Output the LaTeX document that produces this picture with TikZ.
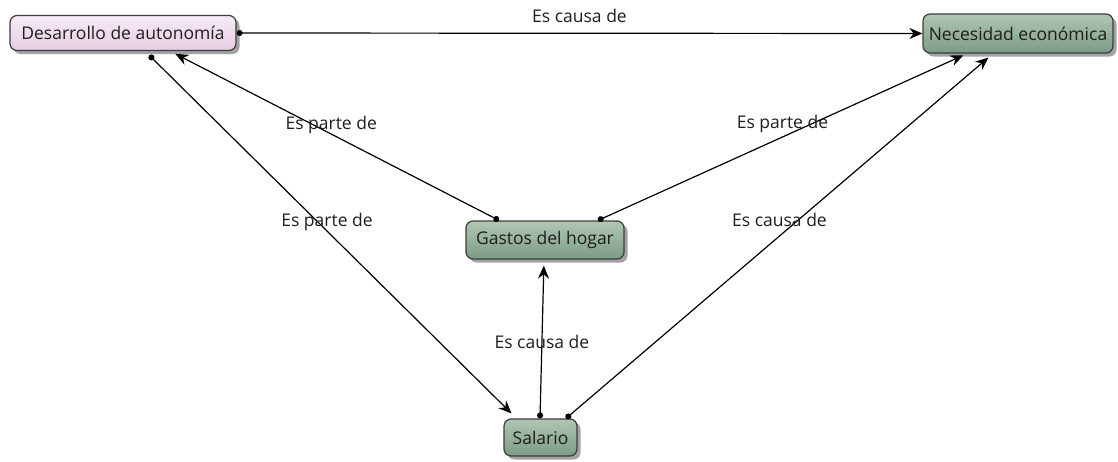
\documentclass[tikz,border=0pt]{standalone}
\usepackage{fontspec}
\setmainfont{Open Sans}
\usetikzlibrary{shadows,arrows.meta,calc}
\definecolor{gtop}{HTML}{AFC6B2}
\definecolor{gbot}{HTML}{7C9C86}
\definecolor{ptop}{HTML}{F7EAF5}
\definecolor{pbot}{HTML}{E6CDE2}
\definecolor{bord}{HTML}{3C3C3C}
\definecolor{txt}{HTML}{1E1E1E}
\tikzset{
  concept/.style={draw=bord, line width=1.2pt, rounded corners=7pt, inner sep=0pt,
    font=\fontsize{17.5}{20}\selectfont, text=txt,
    drop shadow={shadow xshift=3.5pt, shadow yshift=-3.5pt, fill=black!60, opacity=0.6}},
  greenbox/.style={concept, top color=gtop, bottom color=gbot},
  pinkbox/.style={concept, top color=ptop, bottom color=pbot},
  link/.style={draw=black, line width=1.2pt, {Circle[length=6pt]}-{Stealth[length=13pt,width=11pt]}},
  lbl/.style={font=\fontsize{17.5}{20}\selectfont, text=txt, inner sep=0pt}
}
\begin{document}
\begin{tikzpicture}[x=1pt,y=-1pt]
\useasboundingbox (0,0) rectangle (1118,461);
\node[pinkbox, minimum width=226pt, minimum height=35pt] (des) at (123,33) {Desarrollo de autonomía};
\node[greenbox, minimum width=190pt, minimum height=39pt] (nec) at (1018,33.5) {Necesidad económica};
\node[greenbox, minimum width=158pt, minimum height=38pt] (gas) at (545,240) {Gastos del hogar};
\node[greenbox, minimum width=73pt, minimum height=37pt] (sal) at (540.5,437.5) {Salario};

\draw[link] (des.east) -- (nec.west) node[lbl, pos=0.5, yshift=17pt] {Es causa de};
\draw[link, shorten >=6pt] ([xshift=-46pt]gas.north) -- ([xshift=47pt]des.south) node[lbl, pos=0.51, yshift=9pt] {Es parte de};
\draw[link, shorten >=4pt] ([xshift=53pt]gas.north) -- ([xshift=-51pt]nec.south) node[lbl, pos=0.5, yshift=13pt] {Es parte de};
\draw[link, shorten <=6pt, shorten >=7pt] ([xshift=22pt]des.south) -- ([xshift=-24pt]sal.north) node[lbl, pos=0.49, yshift=9pt] {Es parte de};
\draw[link, shorten >=6pt] ([xshift=-0.5pt]sal.north) -- ([xshift=-1pt]gas.south) node[lbl, pos=0.48] {Es causa de};
\draw[link, shorten >=6pt] ([xshift=25.5pt]sal.north) -- ([xshift=-25pt]nec.south) node[lbl, pos=0.5, yshift=16pt] {Es causa de};
\end{tikzpicture}
\end{document}
